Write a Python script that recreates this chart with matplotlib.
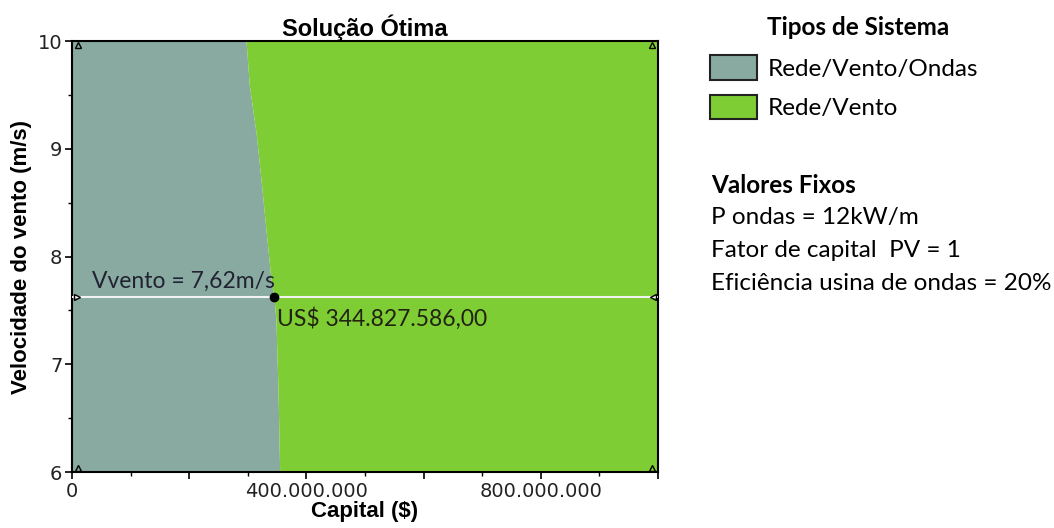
import numpy as np
import matplotlib.pyplot as plt
from matplotlib.patches import Patch
from matplotlib.ticker import MultipleLocator, FuncFormatter

# fronteira entre os dois sistemas otimos (capital em $, vento em m/s)
vento_fronteira = [6.0, 6.76, 7.41, 7.615, 7.78, 8.25, 8.69, 9.13, 9.59, 10.0]
capital_fronteira = [354.4e6, 351.6e6, 348.0e6, 344.8e6, 339.7e6, 331.0e6, 323.0e6, 314.5e6, 302.6e6, 297.0e6]

capital_max = 1.0e9
v_otimo = 7.62
capital_otimo = 344827586.00

sistemas = ['Rede/Vento/Ondas', 'Rede/Vento']
cores = ['#88aaa0', '#7ecd34']

valores_fixos = ['P ondas = 12kW/m', 'Fator de capital  PV = 1',
                 'Eficiência usina de ondas = 20%']

fig = plt.figure(figsize=(10.54, 5.28), dpi=100)
ax = fig.add_axes([0.0683, 0.106, 0.556, 0.8163])

# regioes
ax.fill_betweenx(vento_fronteira, 0, capital_fronteira, color=cores[0], lw=0)
ax.fill_betweenx(vento_fronteira, capital_fronteira, capital_max, color=cores[1], lw=0)

# linha do vento otimo
ax.plot([0, capital_max], [v_otimo, v_otimo], color='#f2f2f2', lw=1.5, zorder=3)
ax.plot(capital_otimo, v_otimo, 'o', color='black', ms=6, zorder=4)
ax.plot(8e6, v_otimo, '>', mfc='none', mec='black', ms=5, clip_on=False, zorder=5)
ax.plot(capital_max - 8e6, v_otimo, '<', mfc='none', mec='black', ms=5, clip_on=False, zorder=5)
for cx, cy in [(10e6, 9.96), (10e6, 6.04), (capital_max - 10e6, 9.96), (capital_max - 10e6, 6.04)]:
    ax.plot(cx, cy, '^', mfc='none', mec='black', ms=5, clip_on=False, zorder=5)

ax.text(35e6, v_otimo + 0.05, 'Vvento = 7,62m/s', family='Lato', fontsize=16.5,
        color='#222233', va='bottom')
ax.text(capital_otimo + 5e6, v_otimo - 0.09,
        'US$ 344.827.586,00', family='Lato', fontsize=16.5, color='#222211', va='top')

ax.set_xlim(0, capital_max)
ax.set_ylim(6, 10)
ax.xaxis.set_major_locator(MultipleLocator(200e6))
ax.xaxis.set_minor_locator(MultipleLocator(100e6))
ax.yaxis.set_major_locator(MultipleLocator(1))
ax.yaxis.set_minor_locator(MultipleLocator(0.5))


def fmt_capital(v, pos):
    if round(v / 1e6) % 400 != 0 or v > 900e6:
        return ''
    return f'{int(round(v)):,}'.replace(',', '.')


ax.xaxis.set_major_formatter(FuncFormatter(fmt_capital))
ax.tick_params(which='major', direction='out', length=5, width=1.2,
               labelsize=14, labelcolor='#222222', pad=2)
ax.tick_params(which='minor', direction='out', length=3, width=1)
for s in ax.spines.values():
    s.set_linewidth(1.5)

ax.set_title('Solução Ótima', family='Liberation Sans', fontweight='bold',
             fontsize=17, pad=2)
ax.set_xlabel('Capital ($)', family='Liberation Sans', fontweight='bold',
              fontsize=16, labelpad=0)
ax.set_ylabel('Velocidade do vento (m/s)', family='Liberation Sans',
              fontweight='bold', fontsize=16, labelpad=4)

# legenda
fig.text(0.728, 0.947, 'Tipos de Sistema', family='Lato', fontweight='bold',
         fontsize=17.5, va='center')
handles = [Patch(facecolor=c, edgecolor='#222222', lw=1.5) for c in cores]
fig.legend(handles, sistemas, loc='upper left',
           bbox_to_anchor=(0.6734, 0.895), frameon=False,
           prop={'family': 'Lato', 'size': 17.5},
           handlelength=1.93, handleheight=1.15, handletextpad=0.45,
           labelspacing=0.62, borderpad=0, borderaxespad=0)

fig.text(0.675, 0.648, 'Valores Fixos', family='Lato', fontweight='bold',
         fontsize=17.5, va='center')
for i, t in enumerate(valores_fixos):
    fig.text(0.675, 0.589 - i * 0.063, t, family='Lato', fontsize=17.5, va='center')

fig.savefig('out.png', dpi=100)
